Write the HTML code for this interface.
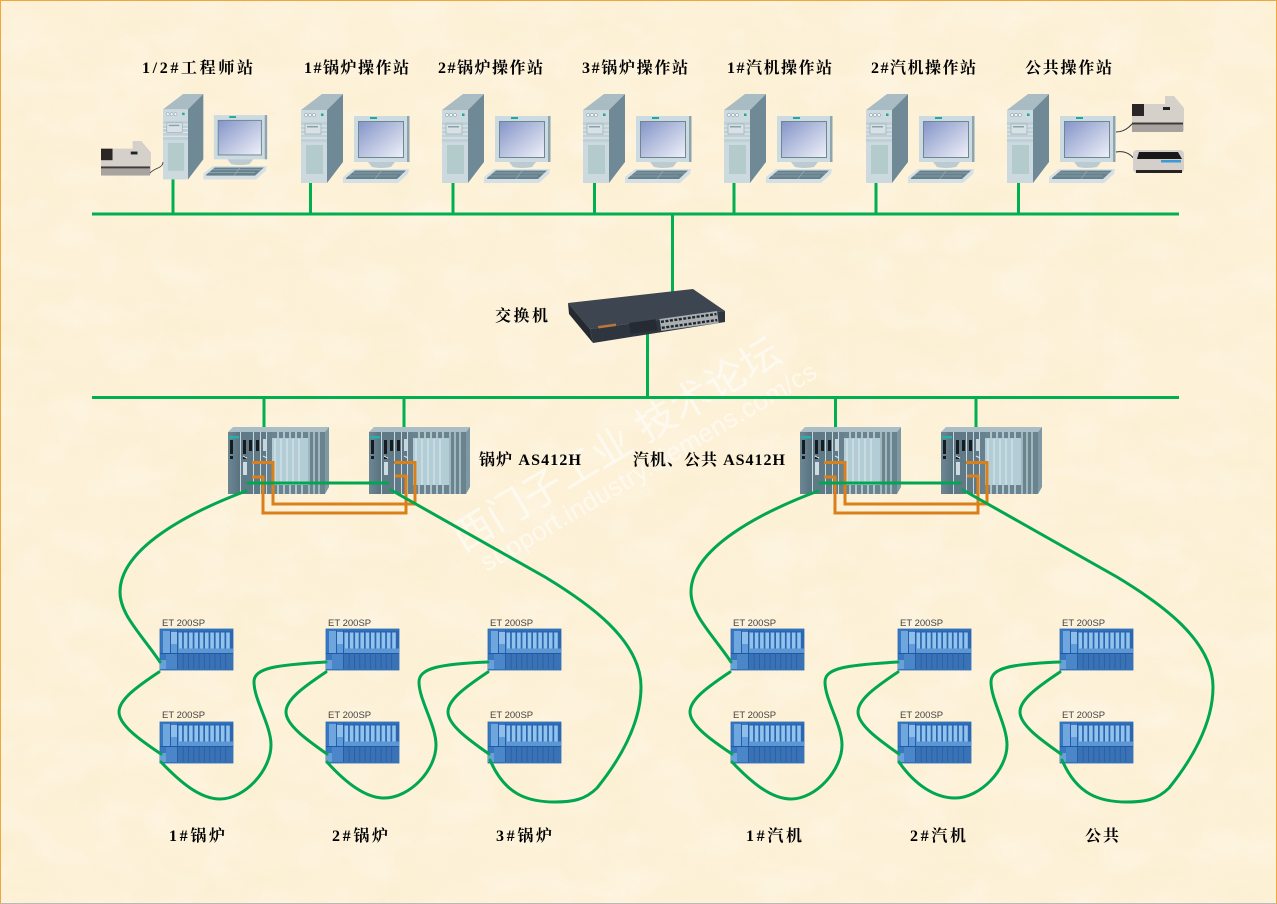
<!DOCTYPE html>
<html lang="zh"><head><meta charset="utf-8"><title>网络架构图</title>
<style>
html,body{margin:0;padding:0;background:#fcf0d6}
svg{display:block}
.l{font-family:"Liberation Serif","Noto Serif CJK SC",serif;font-size:16px;font-weight:700;fill:#000}
.e{font-family:"Liberation Sans",sans-serif;font-size:9.5px;fill:#444}
.b{fill:none;stroke:#00b050;stroke-width:3}
.c{fill:none;stroke:#00a650;stroke-width:3;stroke-linecap:round}
.o{fill:none;stroke:#d9801a;stroke-width:3}
</style></head><body>
<svg xmlns="http://www.w3.org/2000/svg" width="1277" height="904" viewBox="0 0 1277 904">
<defs>
<filter id="tex" x="0" y="0" width="100%" height="100%">
<feTurbulence type="fractalNoise" baseFrequency="0.014 0.022" numOctaves="4" seed="7"/>
<feColorMatrix type="matrix" values="0 0 0 0 .96  0 0 0 0 .86  0 0 0 0 .62  3 0 0 0 -1.3"/>
</filter>
<filter id="tex2" x="0" y="0" width="100%" height="100%">
<feTurbulence type="fractalNoise" baseFrequency="0.02 0.03" numOctaves="3" seed="23"/>
<feColorMatrix type="matrix" values="0 0 0 0 1  0 0 0 0 .98  0 0 0 0 .92  3 0 0 0 -1.4"/>
</filter>
<linearGradient id="scr" x1="0" y1="0" x2="1" y2="1"><stop offset="0" stop-color="#8595c8"/><stop offset="1" stop-color="#eef0f8"/></linearGradient>
<linearGradient id="cpu" x1="0" y1="0" x2="1" y2="0"><stop offset="0" stop-color="#6d8795"/><stop offset="1" stop-color="#587280"/></linearGradient>

<g id="pc">
<polygon points="0,16 21,0 42,0 26,16" fill="#a9bcc4"/>
<polygon points="26,16 42,0 42,68 26,89" fill="#6f8a96"/>
<rect x="0" y="16" width="26" height="73" fill="#ccdae0"/>
<circle cx="5" cy="21" r="1.6" fill="#f2f6f7" stroke="#7b929c" stroke-width=".5"/><circle cx="9" cy="21" r="1.6" fill="#f2f6f7" stroke="#7b929c" stroke-width=".5"/><circle cx="13" cy="21" r="1.6" fill="#f2f6f7" stroke="#7b929c" stroke-width=".5"/>
<rect x="20" y="19.500" width="2.500" height="2.500" fill="#1fa89a"/>
<rect x="0" y="28" width="26" height="20" fill="#c0d0d7"/>
<path d="M0 32H26M0 36H26M0 40H26M0 44H26" stroke="#e3ebee" stroke-width="1"/>
<rect x="4" y="30" width="16" height="10" fill="#d8e2e6" stroke="#92a6af" stroke-width=".6"/>
<rect x="6" y="32" width="11" height="1.500" fill="#8aa0aa"/>
<rect x="5" y="51" width="17" height="29" fill="#b3cccb"/>
<rect x="53" y="22" width="55" height="46" fill="#ccdae1"/>
<rect x="106" y="22" width="2.500" height="46" fill="#8ea5b0"/>
<rect x="69" y="23" width="7" height="2" fill="#20a898"/>
<rect x="57" y="27" width="46" height="37" fill="#6f8792"/>
<rect x="58" y="28" width="44" height="35" fill="url(#scr)"/>
<path d="M67 68H94L90 73Q80 75 71 73Z" fill="#bccbd2"/>
<polygon points="42,83 52,75 108,75 107,80 97,89 42,89" fill="#d5e0e5"/>
<polygon points="45,84 54,76.500 105,76.500 96,85 45,85" fill="#66808c"/>
<path d="M48 82H96M52 79H102M80 77L74 85" stroke="#a3b7c0" stroke-width=".6"/>
</g>

<g id="as">
<polygon points="0,5 5,0 101,0 97,5" fill="#a9bec7"/>
<polygon points="97,5 101,0 101,60 97,67" fill="#7f98a3"/>
<rect x="0" y="5" width="97" height="62" fill="#c8d8de"/>
<rect x="0" y="5" width="12" height="62" fill="url(#cpu)"/>
<rect x="13" y="5" width="12" height="62" fill="#5f7987"/>
<rect x="26" y="5" width="12" height="62" fill="#5f7987"/>
<rect x="32" y="5" width="1" height="62" fill="#c8d8de"/>
<rect x="39" y="5" width="5" height="62" fill="#68818f"/>
<rect x="1" y="9" width="10" height="2.500" fill="#27b0a6"/>
<rect x="2" y="13" width="3" height="14" fill="#151b1f"/><rect x="2" y="29" width="3" height="3" fill="#151b1f"/>
<rect x="15" y="13" width="3" height="14" fill="#151b1f"/><rect x="15" y="29" width="3" height="3" fill="#151b1f"/>
<rect x="21" y="13" width="3" height="11" fill="#151b1f"/>
<rect x="28" y="13" width="3" height="11" fill="#151b1f"/>
<rect x="35" y="12" width="3" height="12" fill="#c7d5da"/>
<rect x="15" y="35" width="4" height="13" fill="#cddadf"/>
<path d="M15 29l4 2M35 29l4 2" stroke="#dfe8eb" stroke-width="1"/>
<rect x="44" y="5" width="36" height="62" fill="#b3cdd6"/>
<path d="M47 12V60M53 12V60M59 12V60M65 12V60M71 12V60" stroke="#cfe0e5" stroke-width="1.500"/>
<path d="M44 5H80V11H44ZM44 58H80V67H44Z" fill="#69838f"/>
<path d="M50 5V11M56 5V11M62 5V11M68 5V11M74 5V11M50 58V67M56 58V67M62 58V67M68 58V67M74 58V67" stroke="#c8d8de" stroke-width="1.500"/>
<rect x="80" y="5" width="17" height="62" fill="#69838f"/>
<path d="M81 5V67M86 5V67M91 5V67" stroke="#c8d8de" stroke-width="1.200"/>
</g>

<g id="et">
<rect x="0" y="0" width="73" height="41" fill="#3878c0" stroke="#2a6ab5" stroke-width=".8"/>
<rect x="3" y="2" width="7" height="22" fill="#6fa6de"/>
<rect x="11" y="3" width="6" height="22" fill="#8fbfe9"/>
<rect x="11" y="15" width="6" height="10" fill="#5f9bd8"/>
<rect x="0" y="31" width="6" height="9" fill="#6aa0d8"/>
<rect x="6" y="25" width="11" height="15" fill="#4a86c8"/>
<rect x="18" y="1.500" width="55" height="23" fill="#2a66b2"/>
<g fill="#92c3ec"><rect x="18.500" y="3.500" width="3.600" height="16"/><rect x="23.800" y="3.500" width="3.600" height="16"/><rect x="29.100" y="3.500" width="3.600" height="16"/><rect x="34.400" y="3.500" width="3.600" height="16"/><rect x="39.700" y="3.500" width="3.600" height="16"/><rect x="45" y="3.500" width="3.600" height="16"/><rect x="50.300" y="3.500" width="3.600" height="16"/><rect x="55.600" y="3.500" width="3.600" height="16"/><rect x="60.900" y="3.500" width="3.600" height="16"/><rect x="66.200" y="3.500" width="3.600" height="16"/></g>
<rect x="18" y="19.500" width="55" height="5" fill="#5c96d3"/>
<rect x="18" y="25" width="55" height="15" fill="#3a72b6"/>
<path d="M23.200 25V40M28.500 25V40M33.800 25V40M39.100 25V40M44.400 25V40M49.700 25V40M55 25V40M60.300 25V40M65.600 25V40" stroke="#2b5fa6" stroke-width=".9"/>
<path d="M0 24.500H73" stroke="#1e59a5" stroke-width="1"/>
<path d="M10.500 1V25M17.500 1V40" stroke="#1e59a5" stroke-width=".8"/>
</g>

<g id="prn">
<polygon points="0,8 33,8 33,0 42,0 52,12 52,35 0,35" fill="#d6d0cb"/>
<rect x="0" y="28" width="51" height="8" fill="#a9a39f"/>
<rect x="0" y="26.500" width="51" height="2" fill="#3e3b39"/>
<rect x="0" y="8" width="12" height="12" fill="#2a2625"/>
<rect x="31" y="11" width="7" height="3" fill="#222"/>
</g>
</defs>

<rect width="1277" height="904" fill="#fdf1d8"/>
<rect width="1277" height="904" filter="url(#tex)" opacity=".45"/>
<rect width="1277" height="904" filter="url(#tex2)" opacity=".25"/>
<rect x=".5" y=".5" width="1276" height="903" fill="none" stroke="#efa63c" stroke-width="1"/>
<path d="M.5 903.500H1276.500" stroke="#b9b9b9" stroke-width="1"/>

<!-- watermark -->
<g fill="#fff" opacity=".6">
<text transform="translate(463,553) rotate(-31)" font-family="'Liberation Sans','Noto Sans CJK SC',sans-serif" font-size="40" font-weight="400" textLength="375">西门子工业 技术论坛</text>
<text transform="translate(487,572) rotate(-30.500)" font-family="'Liberation Sans',sans-serif" font-size="26" textLength="385">support.industry.siemens.com/cs</text>
</g>

<!-- labels -->
<g class="l">
<text x="142" y="73" textLength="111">1/2#工程师站</text>
<text x="304" y="73" textLength="105">1#锅炉操作站</text>
<text x="438" y="73" textLength="105">2#锅炉操作站</text>
<text x="582" y="73" textLength="106">3#锅炉操作站</text>
<text x="727" y="73" textLength="105">1#汽机操作站</text>
<text x="871" y="73" textLength="105">2#汽机操作站</text>
<text x="1025" y="73" textLength="87">公共操作站</text>
<text x="495" y="321" textLength="53">交换机</text>
<text x="479" y="465" textLength="102">锅炉 AS412H</text>
<text x="633" y="465" textLength="152">汽机、公共 AS412H</text>
<text x="169" y="841" textLength="56">1#锅炉</text>
<text x="332" y="841" textLength="56">2#锅炉</text>
<text x="496" y="841" textLength="56">3#锅炉</text>
<text x="746" y="841" textLength="56">1#汽机</text>
<text x="910" y="841" textLength="56">2#汽机</text>
<text x="1085" y="841" textLength="34">公共</text>
</g>

<!-- buses and stems -->
<g class="b">
<path d="M92 214H1179M92 397.500H1179"/>
<path d="M173 178V214M310.500 183V214M453 183V214M594.500 183V214M734 183V214M876 183V214M1018.500 182V214"/>
<path d="M672.500 214V292M647.500 333V397M264 397V428M404 397V428M835.500 397V428M976 397V428"/>
</g>

<!-- PCs -->
<use href="#pc" transform="translate(163,94) scale(.96)"/>
<use href="#pc" x="301" y="94"/><use href="#pc" x="442" y="94"/><use href="#pc" x="583" y="94"/><use href="#pc" x="724" y="94"/><use href="#pc" x="866" y="94"/><use href="#pc" x="1007" y="94"/>

<!-- printers -->
<use href="#prn" transform="translate(101,141) scale(.96)"/>
<path d="M150 173Q153 170 158 168T163 162" fill="none" stroke="#333" stroke-width=".8"/>
<use href="#prn" x="1132" y="96"/>
<path d="M1116 132Q1125 132 1132 124" fill="none" stroke="#333" stroke-width="1"/>
<path d="M1116 152Q1128 150 1135 160" fill="none" stroke="#333" stroke-width="1"/>
<rect x="1133" y="150" width="51" height="23" rx="4" fill="#d5cfcb"/>
<polygon points="1139,152 1178,152 1182,159 1137,159" fill="#181818"/>
<rect x="1161" y="160" width="20" height="2.500" fill="#3c9ad6"/>
<rect x="1136" y="170" width="46" height="3" fill="#26221f"/>

<!-- switch -->
<polygon points="568,303 693,289 725,311 590,329" fill="#3d4550"/>
<polygon points="568,303 590,329 593,343 569,314" fill="#252a31"/>
<polygon points="590,329 725,311 725,322 593,343" fill="#2f353f"/>
<rect x="598" y="326" width="18" height="2.500" fill="#b9773a" transform="rotate(-8 598 326)"/>
<rect x="629" y="323" width="27" height="11" fill="#262b33" transform="rotate(-8 629 323)"/>
<g transform="rotate(-8 660 322)"><rect x="660" y="319" width="58" height="12" fill="#a9afb3"/>
<path d="M661 322H717M661 328H717" stroke="#20252b" stroke-width="2.400" stroke-dasharray="3 1.500"/></g>

<!-- AS -->
<use href="#as" x="228" y="427"/><use href="#as" x="369" y="427"/><use href="#as" x="800" y="427"/><use href="#as" x="941" y="427"/>

<!-- ET -->
<g id="ets">
<use href="#et" x="160" y="629"/><use href="#et" x="160" y="722"/>
<use href="#et" x="326" y="629"/><use href="#et" x="326" y="722"/>
<use href="#et" x="488" y="629"/><use href="#et" x="488" y="722"/>
<use href="#et" x="731" y="629"/><use href="#et" x="731" y="722"/>
<use href="#et" x="898" y="629"/><use href="#et" x="898" y="722"/>
<use href="#et" x="1060" y="629"/><use href="#et" x="1060" y="722"/>
</g>
<g class="e">
<text x="162" y="626">ET 200SP</text><text x="162" y="718">ET 200SP</text>
<text x="328" y="626">ET 200SP</text><text x="328" y="718">ET 200SP</text>
<text x="490" y="626">ET 200SP</text><text x="490" y="718">ET 200SP</text>
<text x="733" y="626">ET 200SP</text><text x="733" y="718">ET 200SP</text>
<text x="900" y="626">ET 200SP</text><text x="900" y="718">ET 200SP</text>
<text x="1062" y="626">ET 200SP</text><text x="1062" y="718">ET 200SP</text>
</g>

<!-- redundancy links -->
<path class="o" d="M252 462.500H273V504H415V462.500H394M252 477H263V513H406V476H395"/>
<path class="o" d="M824 462.500H845V504H987V462.500H966M824 477H835V513H978V476H967"/>
<path class="c" d="M248 483H388M820 483H960" stroke-linecap="butt"/>

<!-- loops -->
<g class="c" id="loops">
<path d="M246 491C190 512 120 548 120 592C120 615 142 635 160 662"/>
<path d="M159 672C135 688 119 700 119 712C119 725 140 740 161 754"/>
<path d="M161 762C180 782 200 799 220 799C245 799 271 770 271 745C271 725 254 700 254 682C254 668 275 665 326 662"/>
<path d="M326 672C302 688 286 700 286 712C286 725 307 740 327 754"/>
<path d="M327 762C345 782 365 798 384 798C410 798 436 770 436 745C436 725 419 700 419 682C419 668 440 664 488 662"/>
<path d="M488 672C464 688 448 700 448 712C448 725 469 740 489 754"/>
<path d="M391 490L545 577C588 603 641 640 641 687C641 725 618 762 597 788C585 800 572 802 555 802C528 802 505 795 490 760"/>
<path d="M818 491C762 512 691 548 691 592C691 615 713 635 731 662"/>
<path d="M730 672C706 688 690 700 690 712C690 725 711 740 732 754"/>
<path d="M732 762C751 782 771 799 791 799C816 799 842 770 842 745C842 725 825 700 825 682C825 668 846 665 898 662"/>
<path d="M898 672C874 688 858 700 858 712C858 725 879 740 899 754"/>
<path d="M899 762C915 785 935 798 955 798C980 798 1007 770 1007 745C1007 725 991 700 991 682C991 668 1010 664 1060 662"/>
<path d="M1060 672C1036 688 1020 700 1020 712C1020 725 1041 740 1061 754"/>
<path d="M963 490L1117 577C1160 603 1213 640 1213 687C1213 725 1190 762 1169 788C1157 800 1144 802 1127 802C1100 802 1077 795 1062 760"/>
</g>
</svg>
</body></html>
